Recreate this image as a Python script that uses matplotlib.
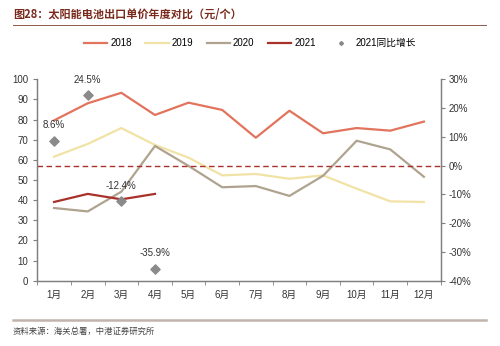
import matplotlib.pyplot as plt
from matplotlib.lines import Line2D
import numpy as np

months = ['1月', '2月', '3月', '4月', '5月', '6月', '7月', '8月', '9月', '10月', '11月', '12月']
price_2018 = [79.6, 88.1, 93.3, 82.3, 88.4, 84.8, 71.0, 84.4, 73.2, 75.8, 74.5, 79.0]
price_2019 = [61.6, 67.9, 75.8, 67.4, 61.1, 52.3, 53.0, 50.6, 52.3, 45.7, 39.4, 39.1]
price_2020 = [36.1, 34.4, 44.2, 66.9, 57.0, 46.4, 47.0, 42.1, 52.1, 69.5, 65.2, 51.6]
price_2021 = [39.1, 43.1, 40.4, 43.1]
yoy_2021 = [8.6, 24.5, -12.4, -35.9]

FONT = ['Liberation Sans', 'Noto Sans CJK SC']
plt.rcParams['font.family'] = FONT

c2018 = '#E2735C'
c2019 = '#F1E2A6'
c2020 = '#AFA38F'
c2021 = '#A8322A'
cdia = '#8A8A8A'
spine_c = '#7F7F7F'

fig = plt.figure(figsize=(5.0, 3.46), dpi=100)
ax = fig.add_axes([0.0746, 0.1887, 0.8068, 0.5821])
ax2 = ax.twinx()

x = np.arange(len(months))
ax.plot(x, price_2018, color=c2018, lw=1.6, label='2018')
ax.plot(x, price_2019, color=c2019, lw=1.6, label='2019')
ax.plot(x, price_2020, color=c2020, lw=1.6, label='2020')
ax.plot(x[:len(price_2021)], price_2021, color=c2021, lw=1.6, label='2021')

ax2.axhline(0, color=c2021, lw=1.0, ls=(0, (4, 2.5)))
x21 = x[:len(yoy_2021)]
ax2.scatter(x21, yoy_2021, marker='D', s=22, color=cdia, zorder=5)
for xi, v in zip(x21, yoy_2021):
    ax2.annotate(f'{v:.1f}%', (xi, v), xytext=(0, 7.5), textcoords='offset points',
                 ha='center', va='bottom', fontsize=7, color='#333333')

ax.set_xlim(-0.5, 11.5)
ax.set_ylim(0, 100)
ax.set_yticks(range(0, 101, 10))
ax2.set_ylim(-40, 30)
ax2.set_yticks(range(-40, 31, 10))
ax2.set_yticklabels([f'{t}%' for t in range(-40, 31, 10)])

ax.set_xticks(x)
ax.set_xticklabels(months)
ax.set_xticks(np.arange(-0.5, 12, 1), minor=True)
ax.tick_params(axis='x', which='major', length=0, pad=7, labelsize=7, colors='#333333')
ax.tick_params(axis='x', which='minor', length=3, direction='out', color=spine_c)
ax.tick_params(axis='y', length=3, direction='out', color=spine_c, labelsize=7, labelcolor='#333333')
ax2.tick_params(axis='y', length=3, direction='out', color=spine_c, labelsize=7, labelcolor='#333333',
                pad=2.5)

for a in (ax, ax2):
    a.spines['top'].set_visible(False)
    for s in ('left', 'right', 'bottom'):
        a.spines[s].set_color(spine_c)
        a.spines[s].set_linewidth(0.9)

handles = [
    Line2D([], [], color=c2018, lw=1.6),
    Line2D([], [], color=c2019, lw=1.6),
    Line2D([], [], color=c2020, lw=1.6),
    Line2D([], [], color=c2021, lw=1.6),
    Line2D([], [], color=cdia, marker='D', ms=2, lw=0),
]
labels = ['2018', '2019', '2020', '2021', '2021同比增长']
fig.legend(handles, labels, loc='center', bbox_to_anchor=(0.5, 1 - 43 / 346), ncol=5,
           frameon=False, fontsize=7, handlelength=2.4, handletextpad=0.3,
           columnspacing=1.4)

# title, rules and source note
fig.text(13 / 500, 1 - 15 / 346, '图28：太阳能电池出口单价年度对比（元/个）', fontsize=8,
         fontweight='bold', color='#7A2A1C', va='center', ha='left',
         family=['Noto Sans CJK SC'])
fig.add_artist(Line2D([13 / 500, 486 / 500], [1 - 24.5 / 346] * 2, color='#8E5A4A', lw=0.7))
fig.add_artist(Line2D([13 / 500, 486 / 500], [1 - 320 / 346] * 2, color='#C2B3AC', lw=1.8))
fig.text(13 / 500, 1 - 331 / 346, '资料来源：海关总署，中港证券研究所', fontsize=6,
         color='#444444', va='center', ha='left', style='italic', family=['Noto Sans CJK SC'])

fig.savefig('out.png', dpi=100)
